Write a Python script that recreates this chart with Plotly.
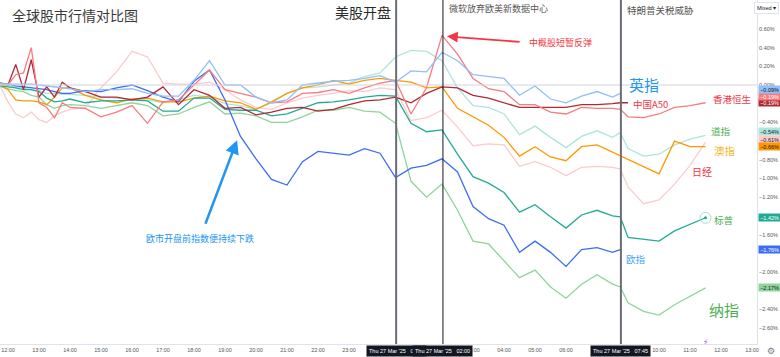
import plotly.graph_objects as go

# x positions in display-hour units (12:00 = 0); axis is compressed after 06:00 like the source
X = [-0.25, 0, 0.25, 0.5, 0.75, 1, 1.25, 1.5, 1.75, 2,
     2.5, 3, 3.5, 4, 4.5, 5, 5.5, 6, 6.5, 7, 7.5, 8, 8.5, 9, 9.5, 10, 10.5, 11, 11.5, 12,
     12.5, 13, 13.5, 14, 14.5, 15, 15.5, 16, 16.5, 17, 17.5, 18, 18.5, 19, 19.5,
     19.75,
     20, 20.5, 21, 21.5, 22, 22.5]

N = None
EU = [0.02, 0.01, -0.01, -0.02, -0.03, -0.04, -0.05, -0.07, -0.09, -0.09,
      -0.06, -0.07, -0.03, 0.00, -0.06, -0.13, -0.18, 0.04, 0.16, -0.16, -0.55, -0.79, -1.01, -1.07, -0.82,
      -0.71, -0.73, -0.75, -0.68, -0.73, -0.99, -0.89, -0.86, -0.79, -0.93, -1.30, -1.43, -1.50, -1.79, -1.67,
      -1.79, -1.94, -1.76, -1.74, -1.79,
      -1.76,
      N, N, N, N, N, N]
UK = [0.02, 0.01, 0.01, 0.01, 0.01, 0.00, -0.01, -0.02, -0.03, -0.04,
      -0.07, -0.05, -0.05, -0.04, -0.09, -0.12, -0.12, 0.05, 0.26, 0.00, 0.00, -0.13, -0.19, -0.16, 0.00,
      0.02, 0.04, 0.05, 0.07, 0.10, 0.03, 0.15, 0.14, 0.35, 0.26, 0.11, 0.09, 0.07, -0.11, -0.01,
      -0.15, -0.19, -0.12, -0.07, -0.13,
      -0.09,
      N, N, N, N, N, N]
HSI = [0.02, 0.00, 0.11, 0.13, 0.40, -0.19, -0.24, -0.35, -0.19, -0.24,
       -0.25, -0.34, -0.29, -0.22, -0.41, -0.18, -0.16, 0.00, 0.16, -0.05, -0.09, -0.13, -0.19, -0.18, -0.09,
       -0.08, -0.05, -0.09, -0.03, 0.02, 0.05, -0.31, -0.03, 0.53, 0.33, 0.07, -0.04, -0.07, -0.21, -0.21,
       -0.29, -0.31, -0.24, -0.25, -0.25,
       -0.26,
       -0.34, -0.35, -0.31, -0.24, -0.22, -0.19]
A50 = [0.02, 0.00, 0.22, -0.05, 0.27, -0.13, -0.02, -0.13, 0.03, -0.03,
       -0.07, -0.13, -0.13, -0.16, -0.13, -0.02, -0.21, -0.05, -0.11, -0.25, -0.24, -0.32, -0.29, -0.25, -0.24,
       -0.28, -0.26, -0.21, -0.17, -0.16, -0.13, -0.19, -0.09, -0.02, -0.03, -0.11, -0.14, -0.19, -0.24, -0.24,
       -0.24, -0.24, -0.21, -0.21, -0.20,
       -0.19,
       -0.19, N, N, N, N, N]
DOW = [0.00, -0.01, -0.02, -0.03, -0.05, -0.06, -0.09, -0.09, -0.10, -0.10,
       -0.11, -0.13, -0.14, -0.15, -0.16, -0.19, -0.16, -0.11, -0.13, -0.20, -0.22, -0.26, -0.19, -0.09, -0.03,
       -0.02, 0.00, 0.02, 0.09, 0.13, 0.30, 0.37, 0.36, 0.26, -0.03, -0.22, -0.24, -0.31, -0.53, -0.44,
       -0.56, -0.67, -0.55, -0.49, -0.56,
       -0.51,
       -0.68, -0.76, -0.74, -0.64, -0.58, -0.54]
ASX = [0.00, -0.05, -0.16, -0.17, -0.17, -0.18, -0.21, -0.13, -0.03, -0.03,
       -0.11, -0.16, -0.19, -0.15, -0.14, -0.18, -0.18, -0.14, -0.12, -0.17, -0.19, -0.26, -0.18, -0.09, -0.03,
       0.00, 0.05, 0.01, 0.05, 0.07, 0.05, 0.03, -0.03, -0.02, -0.25, -0.34, -0.43, -0.56, -0.76, -0.66,
       -0.77, -0.81, -0.66, -0.64, N,
       N,
       N, N, -0.95, -0.60, -0.66, -0.66]
N225 = [-0.02, -0.18, -0.31, -0.35, -0.29, -0.37, -0.40, -0.33, -0.29, -0.26,
        -0.24, -0.03, 0.14, 0.36, 0.30, 0.02, 0.01, 0.01, 0.03, -0.05, -0.16, -0.24, -0.26, -0.19, -0.14,
        -0.11, -0.09, -0.06, -0.07, -0.03, -0.05, -0.38, -0.35, -0.27, -0.45, -0.65, -0.63, -0.64, -0.87, -0.82,
        -0.88, -0.97, -0.88, -0.87, -0.88,
        -0.90,
        -1.09, -1.27, -1.23, -1.06, -0.86, -0.61]
SPX = [-0.01, -0.02, -0.03, -0.05, -0.05, -0.07, -0.14, -0.18, -0.17, -0.15,
       -0.19, -0.17, -0.17, -0.16, -0.17, -0.28, -0.28, -0.14, -0.14, -0.26, -0.27, -0.27, -0.33, -0.31, -0.25,
       -0.19, -0.18, -0.16, -0.13, -0.11, -0.12, -0.41, -0.50, -0.48, -0.74, -0.98, -1.05, -1.15, -1.36, -1.28,
       -1.41, -1.53, -1.39, -1.34, -1.40,
       -1.41,
       -1.63, -1.65, -1.67, -1.56, -1.49, -1.42]
NDX = [-0.02, -0.04, -0.06, -0.07, -0.11, -0.13, -0.21, -0.25, -0.22, -0.21,
       -0.22, -0.25, -0.22, -0.19, -0.22, -0.33, -0.31, -0.24, -0.18, -0.31, -0.30, -0.33, -0.40, -0.40, -0.34,
       -0.27, -0.27, -0.24, -0.28, -0.29, -0.41, -1.03, -1.20, -1.06, -1.34, -1.67, -1.70, -1.88, -2.06, -1.98,
       -2.16, -2.28, -2.13, -2.03, -2.13,
       -2.16,
       -2.33, -2.42, -2.46, -2.35, -2.26, -2.17]

TICK_POS = [0, 1, 2, 3, 4, 5, 6, 7, 8, 9, 10, 11, 15, 16, 17, 18, 21, 22, 23, 24]
TICK_TEXT = ["12:00", "13:00", "14:00", "15:00", "16:00", "17:00", "18:00", "19:00", "20:00",
             "21:00", "22:00", "23:00", "03:00", "04:00", "05:00", "06:00", "10:00", "11:00",
             "12:00", "13:00"]
# price-scale ticks that stay visible (the others sit under the last-value boxes)
Y_TICKS = [0.6, 0.4, 0.2, 0.0, -0.4, -0.8, -1.0, -1.2, -1.6, -2.0, -2.4, -2.6]
EVENT_X = [12.52, 14.03, 19.77]
EVENT_LABELS = ["Thu 27 Mar '25   00:30", "Thu 27 Mar '25   02:00", "Thu 27 Mar '25   07:45"]

FONT = "Noto Sans CJK SC, Noto Sans, sans-serif"

# (values, line colour, label text colour, label y offset in % so stacked boxes don't collide)
series = [
    (NDX, "#8FD49B", "#131722", 0.0),
    (N225, "#FCCBCD", "#131722", 0.027),
    (DOW, "#ACE5DC", "#131722", 0.04),
    (ASX, "#FF9800", "#131722", 0.0),
    (SPX, "#22AB94", "#FFFFFF", 0.0),
    (EU, "#3D6DF2", "#FFFFFF", 0.0),
    (A50, "#B22833", "#FFFFFF", 0.0),
    (HSI, "#F77C80", "#FFFFFF", 0.072),
    (UK, "#90BFF9", "#131722", 0.047),
]

fig = go.Figure()
for vals, col, _, _ in series:
    fig.add_trace(go.Scatter(x=X, y=vals, mode="lines", line=dict(color=col, width=1.3),
                             connectgaps=True, hoverinfo="skip", showlegend=False))

# S&P end marker
fig.add_trace(go.Scatter(x=[X[-1]], y=[SPX[-1]], mode="markers",
                         marker=dict(symbol="circle-open", size=11, color="#A8DCCF", line=dict(width=1)),
                         hoverinfo="skip", showlegend=False))
fig.add_trace(go.Scatter(x=[X[-1]], y=[SPX[-1]], mode="markers",
                         marker=dict(symbol="circle", size=3, color="#22AB94"),
                         hoverinfo="skip", showlegend=False))

shapes = [dict(type="line", xref="paper", x0=0, x1=1, yref="y", y0=0, y1=0,
               line=dict(color="#D1D4DC", width=1))]
shapes.append(dict(type="line", xref="x", x0=EVENT_X[0], x1=EVENT_X[0], yref="paper", y0=0, y1=1,
                   line=dict(color="#6A6D78", width=2)))
shapes.append(dict(type="line", xref="x", x0=EVENT_X[1], x1=EVENT_X[1], yref="paper", y0=0, y1=1,
                   line=dict(color="#131722", width=1)))
shapes.append(dict(type="line", xref="x", x0=EVENT_X[2], x1=EVENT_X[2], yref="paper", y0=0, y1=1,
                   line=dict(color="#6A6D78", width=2)))

ann = []
# last-value boxes on the price scale
for vals, col, tcol, off in series:
    last = [v for v in vals if v is not None][-1]
    ann.append(dict(xref="paper", x=1, xanchor="left", xshift=1, yref="y", y=last + off,
                    text=f"{last:.2f}%".replace("-", "−"), showarrow=False,
                    font=dict(size=5.5, color=tcol, family="Liberation Sans, Arial"),
                    bgcolor=col, borderpad=0.6, width=20))

def txt(x, y, t, size, color, xanchor="left", yref="y", xref="x"):
    ann.append(dict(x=x, y=y, xref=xref, yref=yref, text=t, showarrow=False, xanchor=xanchor,
                    yanchor="middle", font=dict(size=size, color=color, family=FONT)))

txt(0.013, 0.957, "全球股市行情对比图", 14, "#3A3A3A", xref="paper", yref="paper")
txt(11.45, 0.78, "美股开盘", 14, "#2A2A2A", xanchor="center")
txt(14.15, 0.815, "微软放弃欧美新数据中心", 9, "#555555")
txt(19.9, 0.80, "特朗普关税威胁", 9.5, "#555555")
txt(16.75, 0.45, "中概股短暂反弹", 9, "#F23645")
txt(6.2, -1.64, "欧市开盘前指数便持续下跌", 9, "#2196F3", xanchor="center")
txt(19.98, 0.0, "英指", 15, "#2196F3")
txt(20.1, -0.20, "中国A50", 9.5, "#F23645")
txt(22.68, -0.15, "香港恒生", 9.5, "#F23645")
txt(22.62, -0.49, "道指", 9.5, "#4CAF50")
txt(22.7, -0.70, "澳指", 10.5, "#F9B42D")
txt(22.0, -0.92, "日经", 10, "#F23645")
txt(22.7, -1.44, "标普", 9.5, "#4CAF50")
txt(19.87, -1.86, "欧指", 9.5, "#42A5F5")
txt(22.55, -2.40, "纳指", 15, "#4CAF50")

# arrows
ann.append(dict(x=7.39, y=-0.59, ax=6.35, ay=-1.50, xref="x", yref="y", axref="x", ayref="y",
                text="", showarrow=True, arrowhead=2, arrowsize=1.1, arrowwidth=2.5, arrowcolor="#2196F3"))
ann.append(dict(x=14.16, y=0.52, ax=16.55, ay=0.46, xref="x", yref="y", axref="x", ayref="y",
                text="", showarrow=True, arrowhead=2, arrowsize=1.2, arrowwidth=1.8, arrowcolor="#F23645"))

# time boxes under the axis
for ex, lab in zip(EVENT_X, EVENT_LABELS):
    ann.append(dict(x=ex, y=0, xref="x", yref="paper", yanchor="top", yshift=-1, text=lab,
                    showarrow=False, bgcolor="#131722", borderpad=2,
                    font=dict(size=5.5, color="#FFFFFF", family="Liberation Sans, Arial")))

# small UI bits
ann.append(dict(x=0.996, y=0.995, xref="paper", yref="paper", xanchor="left", yanchor="top",
                text="Mixed ▾", showarrow=False, bgcolor="#FFFFFF", bordercolor="#E0E3EB",
                borderwidth=1, borderpad=2, font=dict(size=5.5, color="#131722", family="Liberation Sans, Arial")))
ann.append(dict(x=22.5, y=0, xref="x", yref="paper", yanchor="bottom", yshift=-5, text="⚡",
                showarrow=False, font=dict(size=8, color="#B04CD6", family="DejaVu Sans")))
ann.append(dict(x=1, y=0, xref="paper", yref="paper", xanchor="left", yanchor="top", xshift=8,
                text="⚙", showarrow=False, font=dict(size=9, color="#787B86", family="DejaVu Sans")))

fig.update_layout(
    width=780, height=357,
    margin=dict(l=0, r=23, t=0, b=13),
    paper_bgcolor="#FFFFFF", plot_bgcolor="#FFFFFF",
    font=dict(family=FONT),
    shapes=shapes, annotations=ann, showlegend=False,
    xaxis=dict(range=[-0.258, 24.16], tickvals=TICK_POS, ticktext=TICK_TEXT, showgrid=False,
               zeroline=False, showline=True, linecolor="#E0E3EB", ticks="",
               tickfont=dict(size=5.5, color="#555555", family="Liberation Sans, Arial")),
    yaxis=dict(range=[-2.77, 0.909], side="right", tickvals=Y_TICKS,
               ticktext=[f"{t:.2f}%".replace("-", "−") for t in Y_TICKS],
               showgrid=False, zeroline=False, showline=True, linecolor="#E0E3EB", ticks="",
               tickfont=dict(size=5.5, color="#555555", family="Liberation Sans, Arial")),
)

fig.write_html("out.html", config={"displayModeBar": False},
               post_script="document.body.style.margin='0';document.body.style.overflow='hidden';")
